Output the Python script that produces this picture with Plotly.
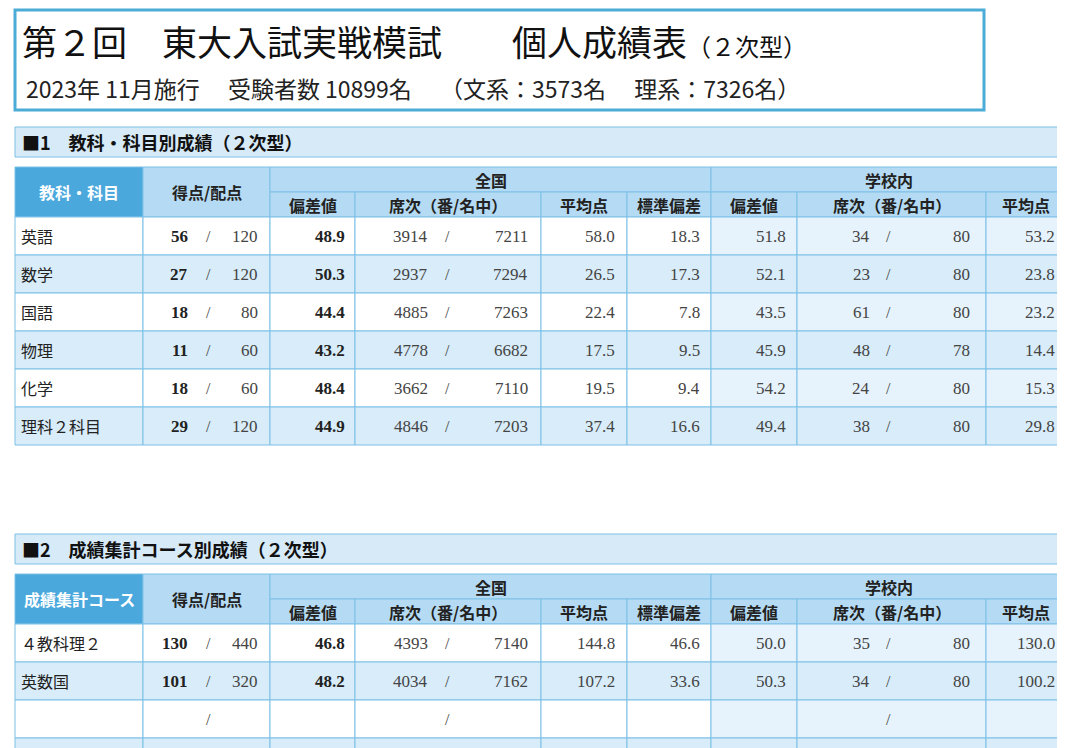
import plotly.graph_objects as go

# ---- data ----
title_main = "第２回　東大入試実戦模試　　個人成績表"
title_sub = "（２次型）"
subtitle = "2023年 11月施行　 受験者数 10899名　 （文系：3573名　 理系：7326名）"
sec1_title = "■1　教科・科目別成績（２次型）"
sec2_title = "■2　成績集計コース別成績（２次型）"

subjects = ["英語", "数学", "国語", "物理", "化学", "理科２科目"]
score = [56, 27, 18, 11, 18, 29]
full = [120, 120, 80, 60, 60, 120]
dev = [48.9, 50.3, 44.4, 43.2, 48.4, 44.9]
rank = [3914, 2937, 4885, 4778, 3662, 4846]
rank_of = [7211, 7294, 7263, 6682, 7110, 7203]
nat_avg = [58.0, 26.5, 22.4, 17.5, 19.5, 37.4]
nat_sd = [18.3, 17.3, 7.8, 9.5, 9.4, 16.6]
sch_dev = [51.8, 52.1, 43.5, 45.9, 54.2, 49.4]
sch_rank = [34, 23, 61, 48, 24, 38]
sch_of = [80, 80, 80, 78, 80, 80]
sch_avg = [53.2, 23.8, 23.2, 14.4, 15.3, 29.8]

courses = ["４教科理２", "英数国", "", ""]
c_score = [130, 101, None, None]
c_full = [440, 320, None, None]
c_dev = [46.8, 48.2, None, None]
c_rank = [4393, 4034, None, None]
c_rank_of = [7140, 7162, None, None]
c_avg = [144.8, 107.2, None, None]
c_sd = [46.6, 33.6, None, None]
c_sch_dev = [50.0, 50.3, None, None]
c_sch_rank = [35, 34, None, None]
c_sch_of = [80, 80, None, None]
c_sch_avg = [130.0, 100.2, None, None]

# ---- layout constants ----
W, H = 1065, 748
OFF = 8  # page body margin
cols = [15, 143, 270, 355, 541, 627, 711, 797, 986, 1080]
LINE = "#7cc0e6"
HDR = "#b5daf3"
HDR1 = "#4aa8dc"
ALT = "#d8ecf9"
SCH = "#e6f3fc"
JP = "Noto Sans CJK JP"
NUM = "Liberation Serif"

shapes, ann = [], []

def rect(x0, y0, x1, y1, fill, line=LINE, w=1):
    shapes.append(dict(type="rect", x0=x0, y0=y0, x1=x1, y1=y1, fillcolor=fill,
                       line=dict(color=line, width=w), layer="below"))

def text(x, y, t, size=17, anchor="left", bold=False, color="#222", font=NUM):
    if bold:
        t = "<b>%s</b>" % t
    ann.append(dict(x=x, y=y, text=t, showarrow=False, xanchor=anchor, yanchor="middle",
                    font=dict(size=size, color=color, family=font)))

# title box
rect(15, 10, 984, 110, "white", line="#4bacd6", w=3)
text(20, 40, title_main + "<span style='font-size:24px'>" + title_sub + "</span>", size=35, font=JP, color="#111")
text(24, 88, subtitle, size=23, font=JP, color="#222")

def fmt(v, d=1):
    return "" if v is None else ("%.*f" % (d, v))

def table(top, sec_title, first_hdr, names, sc, fu, dv, rk, rko, av, sd, sdv, srk, sro, sav, nrows_draw):
    rect(15, top, 1080, top + 30, "#d6eaf8")
    text(20, top + 15, sec_title, size=18, bold=True, font=JP, color="#111")
    h0 = top + 40
    h1 = h0 + 25
    h2 = h1 + 25
    rect(cols[0], h0, cols[1], h2, HDR1)
    text((cols[0] + cols[1]) / 2, (h0 + h2) / 2, first_hdr, size=16, anchor="center", bold=True, font=JP, color="white")
    rect(cols[1], h0, cols[2], h2, HDR)
    text((cols[1] + cols[2]) / 2, (h0 + h2) / 2, "得点/配点", size=16, anchor="center", bold=True, font=JP)
    rect(cols[2], h0, cols[6], h1, HDR)
    text((cols[2] + cols[6]) / 2, (h0 + h1) / 2, "全国", size=16, anchor="center", bold=True, font=JP)
    rect(cols[6], h0, cols[9], h1, HDR)
    text((cols[6] + 986 + 80) / 2, (h0 + h1) / 2, "学校内", size=16, anchor="center", bold=True, font=JP)
    subs = ["偏差値", "席次（番/名中）", "平均点", "標準偏差", "偏差値", "席次（番/名中）", "平均点"]
    for i, s in enumerate(subs):
        a, b = cols[2 + i], cols[3 + i]
        rect(a, h1, b, h2, HDR)
        cx = (a + b) / 2 if i < 6 else (a + 1065) / 2
        text(cx, (h1 + h2) / 2, s, size=16, anchor="center", bold=True, font=JP)
    rh = 38
    for r in range(nrows_draw):
        y0 = h2 + r * rh
        y1 = y0 + rh
        cy = (y0 + y1) / 2
        base = "white" if r % 2 == 0 else ALT
        for c in range(9):
            fill = base
            if c >= 6 and r % 2 == 0:
                fill = SCH
            rect(cols[c], y0, cols[c + 1], y1, fill)
        if r >= len(names):
            continue
        text(cols[0] + 4, cy, names[r], size=16, font=JP)
        if sc[r] is not None:
            text(190, cy, str(sc[r]), size=17, anchor="right", bold=True)
        text(208, cy, "/", size=16, anchor="center", color="#444")
        if fu[r] is not None:
            text(260, cy, str(fu[r]), size=17, anchor="right", color="#444")
        text(347, cy, fmt(dv[r]), size=17, anchor="right", bold=True)
        if rk[r] is not None:
            text(430, cy, str(rk[r]), size=17, anchor="right", color="#444")
            text(530, cy, str(rko[r]), size=17, anchor="right", color="#444")
        text(447, cy, "/", size=16, anchor="center", color="#444")
        text(617, cy, fmt(av[r]), size=17, anchor="right", color="#444")
        text(702, cy, fmt(sd[r]), size=17, anchor="right", color="#444")
        text(788, cy, fmt(sdv[r]), size=17, anchor="right", color="#444")
        if srk[r] is not None:
            text(872, cy, str(srk[r]), size=17, anchor="right", color="#444")
            text(972, cy, str(sro[r]), size=17, anchor="right", color="#444")
        text(888, cy, "/", size=16, anchor="center", color="#444")
        text(1057, cy, fmt(sav[r]), size=17, anchor="right", color="#444")

table(127, sec1_title, "教科・科目", subjects, score, full, dev, rank, rank_of, nat_avg, nat_sd,
      sch_dev, sch_rank, sch_of, sch_avg, len(subjects))
table(534, sec2_title, "成績集計コース", courses, c_score, c_full, c_dev, c_rank, c_rank_of, c_avg, c_sd,
      c_sch_dev, c_sch_rank, c_sch_of, c_sch_avg, 4)

fig = go.Figure()
fig.add_trace(go.Scatter(x=[OFF, W + OFF], y=[OFF, H + OFF], mode="markers", marker=dict(opacity=0), hoverinfo="skip"))
fig.update_layout(width=W, height=H, margin=dict(l=0, r=0, t=0, b=0),
                  plot_bgcolor="white", paper_bgcolor="white", showlegend=False,
                  shapes=shapes, annotations=ann,
                  xaxis=dict(range=[OFF, W + OFF], visible=False, fixedrange=True),
                  yaxis=dict(range=[H + OFF, OFF], visible=False, fixedrange=True))
fig.write_html("out.html")
